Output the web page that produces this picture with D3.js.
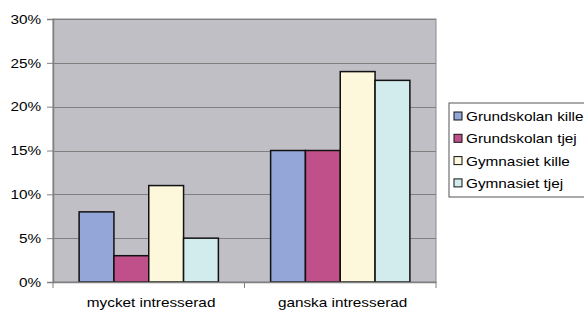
<!DOCTYPE html>
<html>
<head>
<meta charset="utf-8">
<script src="https://cdnjs.cloudflare.com/ajax/libs/d3/7.8.5/d3.min.js"></script>
<style>
body { margin: 0; background: #fff; }
text { font-family: "Liberation Sans", Arial, sans-serif; }
</style>
</head>
<body>
<div id="chart"></div>
<script>
// data
var categories = ["mycket intresserad", "ganska intresserad"];
var seriesNames = ["Grundskolan kille", "Grundskolan tjej", "Gymnasiet kille", "Gymnasiet tjej"];
var seriesValues = [
  [0.08, 0.15],
  [0.03, 0.15],
  [0.11, 0.24],
  [0.05, 0.23]
];
var yTicks = [0, 0.05, 0.10, 0.15, 0.20, 0.25, 0.30];
var colors = ["#94a6d8", "#c0508a", "#fdf8dc", "#d2ebec"];

var W = 584, H = 312;
var stretch = 1.18; // text in the picture is a bit wide
var margin = {top: 19, right: 148, bottom: 30, left: 53},
    width = W - margin.left - margin.right,
    height = H - margin.top - margin.bottom;

var svg = d3.select("#chart").append("svg")
  .attr("width", W)
  .attr("height", H);

var g = svg.append("g")
  .attr("transform", "translate(" + margin.left + "," + margin.top + ")");

var x0 = d3.scaleBand()
  .domain(categories)
  .range([0, width]);

var x1 = d3.scaleBand()
  .domain(seriesNames)
  .range([0, x0.bandwidth()])
  .paddingOuter(0.75)
  .paddingInner(0);

var y = d3.scaleLinear()
  .domain([0, 0.30])
  .range([height, 0]);

// plot background
g.append("rect")
  .attr("width", width)
  .attr("height", height)
  .attr("fill", "#c0bfc6")
  .attr("stroke", "#8a8a90")
  .attr("stroke-width", 1);

// grid lines
g.selectAll(".grid")
  .data(yTicks.slice(1))
  .enter().append("line")
  .attr("x1", 0).attr("x2", width)
  .attr("y1", function(d){ return Math.round(y(d)) + 0.5; })
  .attr("y2", function(d){ return Math.round(y(d)) + 0.5; })
  .attr("stroke", "#808080")
  .attr("stroke-width", 1);

// bars
var rows = [];
categories.forEach(function(c, i) {
  seriesNames.forEach(function(s, j) {
    rows.push({cat: c, series: s, value: seriesValues[j][i], color: colors[j]});
  });
});

g.selectAll(".bar")
  .data(rows)
  .enter().append("rect")
  .attr("x", function(d){ return x0(d.cat) + x1(d.series); })
  .attr("y", function(d){ return y(d.value); })
  .attr("width", x1.bandwidth())
  .attr("height", function(d){ return height - y(d.value); })
  .attr("fill", function(d){ return d.color; })
  .attr("stroke", "#111")
  .attr("stroke-width", 1.5);

// y axis
var yAxis = g.append("g")
  .call(d3.axisLeft(y).tickValues(yTicks).tickFormat(d3.format(".0%")).tickSize(6).tickPadding(4));
yAxis.select(".domain").attr("stroke", "#808080").attr("stroke-width", 1.5);
yAxis.selectAll(".tick line").attr("stroke", "#808080");
yAxis.selectAll("text").attr("font-size", 13).attr("fill", "#000")
  .attr("transform", "scale(" + stretch + ",1)");

// x axis
var xAxis = g.append("g")
  .attr("transform", "translate(0," + height + ")")
  .call(d3.axisBottom(x0).tickSize(0).tickPadding(16));
xAxis.select(".domain").attr("stroke", "#808080").attr("stroke-width", 1.5);
xAxis.selectAll("text").attr("font-size", 13).attr("fill", "#000")
  .attr("x", 2)
  .attr("transform", "scale(" + stretch + ",1)");

// category separator ticks
g.selectAll(".xtick")
  .data([0, 1, 2])
  .enter().append("line")
  .attr("x1", function(d){ return d * x0.step(); })
  .attr("x2", function(d){ return d * x0.step(); })
  .attr("y1", height).attr("y2", height + 6)
  .attr("stroke", "#808080");

// legend
var legend = svg.append("g")
  .attr("transform", "translate(449,103)");

legend.append("rect")
  .attr("width", 150)
  .attr("height", 94)
  .attr("fill", "#fff")
  .attr("stroke", "#555");

var items = legend.selectAll(".item")
  .data(seriesNames)
  .enter().append("g")
  .attr("transform", function(d, i){ return "translate(5," + (13 + i * 22.3) + ")"; });

items.append("rect")
  .attr("x", 0).attr("y", -4)
  .attr("width", 8).attr("height", 8)
  .attr("fill", function(d, i){ return colors[i]; })
  .attr("stroke", "#111");

items.append("text")
  .attr("x", 12 / stretch)
  .attr("y", 5)
  .attr("font-size", 13)
  .attr("transform", "scale(" + stretch + ",1)")
  .text(function(d){ return d; });
</script>
</body>
</html>
